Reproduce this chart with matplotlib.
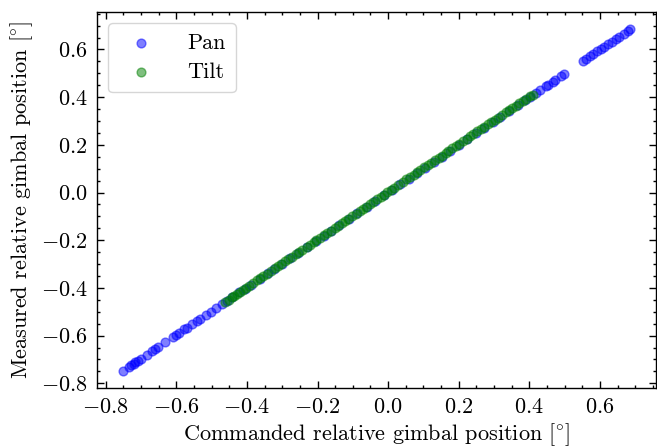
import matplotlib
matplotlib.use('Agg')
from matplotlib import pyplot
from matplotlib.ticker import FuncFormatter, MultipleLocator

# commanded vs measured gimbal position
pan_cmd = [-0.752, -0.735, -0.728, -0.721, -0.716, -0.709, -0.701, -0.683, -0.668, -0.661,
           -0.652, -0.631, -0.608, -0.601, -0.592, -0.577, -0.569, -0.556, -0.541, -0.532,
           -0.517, -0.503, -0.488, -0.471, -0.455, -0.442, -0.421, -0.405, -0.388, -0.362,
           -0.341, -0.322, -0.301, -0.277, -0.254, -0.231, -0.205, -0.183, -0.161, -0.139,
           -0.112, -0.088, -0.061, -0.037, -0.012, 0.011, 0.034, 0.058, 0.083, 0.104,
           0.129, 0.152, 0.176, 0.201, 0.224, 0.249, 0.271, 0.296, 0.318, 0.341,
           0.367, 0.389, 0.402, 0.418, 0.431, 0.447, 0.452, 0.466, 0.474, 0.489,
           0.497, 0.553, 0.561, 0.572, 0.581, 0.593, 0.604, 0.611, 0.623, 0.634,
           0.646, 0.655, 0.667, 0.679, 0.686]
pan_meas = [-0.748, -0.731, -0.725, -0.719, -0.712, -0.706, -0.699, -0.680, -0.666, -0.657,
            -0.649, -0.628, -0.606, -0.598, -0.590, -0.574, -0.566, -0.553, -0.539, -0.530,
            -0.515, -0.501, -0.486, -0.469, -0.453, -0.440, -0.419, -0.404, -0.386, -0.361,
            -0.339, -0.321, -0.299, -0.276, -0.252, -0.230, -0.204, -0.182, -0.160, -0.138,
            -0.111, -0.087, -0.060, -0.036, -0.011, 0.011, 0.034, 0.058, 0.082, 0.104,
            0.128, 0.151, 0.175, 0.200, 0.223, 0.248, 0.270, 0.295, 0.317, 0.340,
            0.366, 0.388, 0.401, 0.417, 0.430, 0.446, 0.451, 0.465, 0.473, 0.488,
            0.496, 0.552, 0.560, 0.571, 0.580, 0.592, 0.603, 0.610, 0.622, 0.633,
            0.645, 0.654, 0.666, 0.678, 0.685]

tilt_cmd = [-0.462, -0.451, -0.443, -0.437, -0.428, -0.419, -0.411, -0.402, -0.394, -0.383,
            -0.371, -0.362, -0.355, -0.344, -0.333, -0.321, -0.313, -0.302, -0.291, -0.283,
            -0.272, -0.261, -0.252, -0.243, -0.231, -0.222, -0.211, -0.203, -0.192, -0.181,
            -0.172, -0.163, -0.151, -0.142, -0.131, -0.122, -0.113, -0.101, -0.092, -0.081,
            -0.071, -0.062, -0.051, -0.042, -0.031, -0.021, -0.012, -0.002, 0.009, 0.018,
            0.029, 0.041, 0.052, 0.061, 0.072, 0.083, 0.091, 0.102, 0.113, 0.121,
            0.132, 0.143, 0.152, 0.163, 0.171, 0.182, 0.193, 0.201, 0.212, 0.223,
            0.232, 0.241, 0.253, 0.262, 0.271, 0.283, 0.291, 0.302, 0.311, 0.322,
            0.333, 0.341, 0.352, 0.361, 0.372, 0.381, 0.391, 0.402, 0.409]
tilt_meas = [-0.458, -0.449, -0.440, -0.435, -0.424, -0.417, -0.408, -0.399, -0.392, -0.380,
             -0.368, -0.360, -0.351, -0.341, -0.330, -0.318, -0.310, -0.299, -0.289, -0.280,
             -0.269, -0.258, -0.249, -0.240, -0.228, -0.219, -0.208, -0.200, -0.189, -0.178,
             -0.169, -0.160, -0.148, -0.139, -0.128, -0.119, -0.110, -0.098, -0.089, -0.078,
             -0.068, -0.059, -0.048, -0.039, -0.028, -0.018, -0.009, 0.001, 0.012, 0.021,
             0.032, 0.044, 0.055, 0.064, 0.075, 0.086, 0.094, 0.105, 0.116, 0.124,
             0.135, 0.146, 0.155, 0.166, 0.174, 0.185, 0.196, 0.204, 0.215, 0.226,
             0.235, 0.244, 0.256, 0.265, 0.274, 0.286, 0.294, 0.305, 0.314, 0.325,
             0.336, 0.344, 0.355, 0.364, 0.375, 0.384, 0.394, 0.404, 0.411]

x_label = r'Commanded relative gimbal position [$\!^\circ\!$]'
y_label = r'Measured relative gimbal position [$\!^\circ\!$]'

## Computer Modern look without LaTeX
pyplot.rcParams['mathtext.fontset'] = 'cm'
pyplot.rcParams['font.family'] = ['cmr10', 'DejaVu Serif']
pyplot.rcParams['axes.unicode_minus'] = False

fig = pyplot.figure(figsize=(6.57, 4.47), dpi=100, facecolor='white')
ax = fig.add_axes([0.148, 0.132, 0.850, 0.841])

ax.scatter(pan_cmd, pan_meas, color='blue', alpha=0.5, s=40, label='Pan')
ax.scatter(tilt_cmd, tilt_meas, color='green', alpha=0.5, s=40, label='Tilt')

ax.set_xlabel(x_label, fontsize=16, labelpad=3)
ax.set_ylabel(y_label, fontsize=16, labelpad=4)

## ticks in, on every side, with minor ticks
ax.xaxis.set_major_locator(MultipleLocator(0.2))
ax.yaxis.set_major_locator(MultipleLocator(0.2))
ax.xaxis.set_minor_locator(MultipleLocator(0.05))
ax.yaxis.set_minor_locator(MultipleLocator(0.05))
fmt = FuncFormatter(lambda v, pos: r'$%.1f$' % (0.0 if abs(v) < 1e-9 else v))
ax.xaxis.set_major_formatter(fmt)
ax.yaxis.set_major_formatter(fmt)
ax.tick_params(which='both', direction='in', top=True, right=True, labelsize=16, width=1.0)
ax.tick_params(which='major', length=5, pad=7)
ax.tick_params(which='minor', length=2.5)
for sp in ax.spines.values():
    sp.set_linewidth(1.0)

ax.legend(loc='upper left', fontsize=16, frameon=True, borderpad=0.45,
          handletextpad=1.1, labelspacing=0.45, framealpha=0.8, edgecolor='0.8')

pyplot.savefig('out.png', dpi=100)
